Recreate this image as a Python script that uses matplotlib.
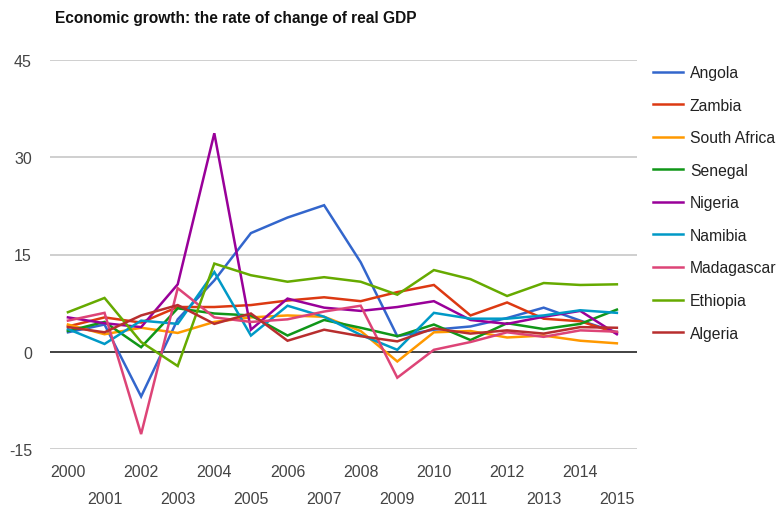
import matplotlib
matplotlib.use("Agg")
import matplotlib.pyplot as plt
from matplotlib.ticker import FixedLocator

plt.rcParams['font.family'] = ['Liberation Sans', 'DejaVu Sans']

years = list(range(2000, 2016))

angola = [3.0, 4.2, -6.9, 5.0, 11.0, 18.3, 20.7, 22.6, 13.8, 2.4, 3.4, 3.9, 5.2, 6.8, 4.8, 3.0]
zambia = [3.9, 5.3, 4.5, 6.9, 6.9, 7.2, 7.9, 8.4, 7.8, 9.2, 10.3, 5.6, 7.6, 5.1, 4.7, 2.9]
south_africa = [4.2, 2.7, 3.7, 2.9, 4.6, 5.3, 5.6, 5.4, 3.2, -1.5, 3.0, 3.2, 2.2, 2.5, 1.7, 1.3]
senegal = [3.2, 4.6, 0.7, 6.7, 5.9, 5.6, 2.5, 4.9, 3.7, 2.4, 4.2, 1.8, 4.4, 3.5, 4.3, 6.5]
nigeria = [5.3, 4.4, 3.8, 10.4, 33.7, 3.4, 8.2, 6.8, 6.3, 6.9, 7.8, 4.9, 4.3, 5.4, 6.3, 2.7]
namibia = [3.5, 1.2, 4.8, 4.3, 12.3, 2.5, 7.1, 5.4, 2.6, 0.3, 6.0, 5.1, 5.1, 5.6, 6.4, 6.0]
madagascar = [4.8, 6.0, -12.7, 9.8, 5.3, 4.6, 5.0, 6.2, 7.1, -4.0, 0.3, 1.5, 3.0, 2.3, 3.3, 3.1]
ethiopia = [6.1, 8.3, 1.5, -2.2, 13.6, 11.8, 10.8, 11.5, 10.8, 8.8, 12.6, 11.2, 8.6, 10.6, 10.3, 10.4]
algeria = [3.8, 3.0, 5.6, 7.2, 4.3, 5.9, 1.7, 3.4, 2.4, 1.6, 3.6, 2.8, 3.3, 2.8, 3.8, 3.7]

series = [
    ("Angola", angola, "#3366cc"),
    ("Zambia", zambia, "#dc3912"),
    ("South Africa", south_africa, "#ff9900"),
    ("Senegal", senegal, "#109618"),
    ("Nigeria", nigeria, "#990099"),
    ("Namibia", namibia, "#0099c6"),
    ("Madagascar", madagascar, "#dd4477"),
    ("Ethiopia", ethiopia, "#66aa00"),
    ("Algeria", algeria, "#b82e2e"),
]

y_ticks = [-15, 0, 15, 30, 45]

fig = plt.figure(figsize=(7.79, 5.10), dpi=100)
ax = fig.add_axes([50/779, 1-450/510, (637-50)/779, (450-61)/510])

for t in y_ticks:
    if t == 0:
        ax.axhline(t, color="#333333", lw=1.3, zorder=1)
    else:
        ax.axhline(t, color="#cccccc", lw=1.3, zorder=0)

for name, vals, col in series:
    ax.plot(years, vals, color=col, lw=1.8, label=name, zorder=2,
            solid_joinstyle='miter')

ax.set_xlim(1999.51, 2015.55)
ax.set_ylim(-15, 45)
for s in ax.spines.values():
    s.set_visible(False)

ax.set_yticks(y_ticks)
ax.set_yticklabels([str(t) for t in y_ticks])
ax.tick_params(axis='y', length=0, pad=13, labelsize=11.5, labelcolor="#444444")

even = [y for y in years if y % 2 == 0]
odd = [y for y in years if y % 2 == 1]
ax.set_xticks(even)
ax.set_xticklabels([str(y) for y in even])
ax.xaxis.set_minor_locator(FixedLocator(odd))
ax.set_xticks(odd, minor=True)
ax.set_xticklabels([str(y) for y in odd], minor=True)
ax.tick_params(axis='x', which='major', length=0, pad=11, labelsize=11.5, labelcolor="#444444")
ax.tick_params(axis='x', which='minor', length=0, pad=30, labelsize=11.5, labelcolor="#444444")

fig.text(55/779, 1-18/510, "Economic growth: the rate of change of real GDP",
         fontsize=11.2, fontweight='bold', color="#111111", va='center', ha='left')

fig.legend(loc='upper left', bbox_to_anchor=(653/779, 1-66/510), frameon=False,
           fontsize=11.3, handlelength=1.9, handletextpad=0.45, labelspacing=1.12,
           borderpad=0, borderaxespad=0, labelcolor="#222222")

fig.savefig("out.png", dpi=100)
